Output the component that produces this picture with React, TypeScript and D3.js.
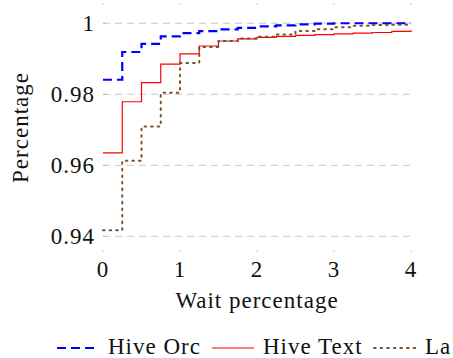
import React from "react";
import { scaleLinear, line, curveStepAfter } from "d3";

// wait percentage steps (x), one value per step for each series
const waits = [0, 0.25, 0.5, 0.75, 1, 1.25, 1.5, 1.75, 2, 2.25, 2.5, 2.75, 3, 3.25, 3.5, 3.75, 4];

const hiveOrc = [0.9841, 0.9919, 0.9942, 0.9963, 0.9972, 0.9978, 0.9983, 0.9987, 0.9991, 0.9994, 0.9997, 0.9999, 1, 1, 1, 1, 1];
const hiveText = [0.9635, 0.9779, 0.9833, 0.9885, 0.9914, 0.9936, 0.995, 0.9956, 0.996, 0.9963, 0.9966, 0.9968, 0.997, 0.9972, 0.9974, 0.9977, 0.998];
const laSeries = [0.9417, 0.9613, 0.9709, 0.9804, 0.9888, 0.9933, 0.995, 0.9957, 0.9962, 0.9968, 0.9978, 0.9983, 0.9989, 0.9993, 0.9995, 0.9996, 0.9998];

const xTicks = [0, 1, 2, 3, 4];
const yTicks = [0.94, 0.96, 0.98, 1];

const seriesNames = ["Hive Orc", "Hive Text", "La"];

const fs = 23;
const txt: React.CSSProperties = { fontFamily: "'Liberation Serif', 'Times New Roman', serif", fontSize: fs, letterSpacing: 1 };

const styles = [
  { stroke: "#0000ff", width: 2.2, dash: "9 5" },
  { stroke: "#ff0000", width: 1.2, dash: undefined },
  { stroke: "#7a5230", width: 2, dash: "1.6 5" },
];

export default function App() {
  const left = 103, right = 411, top = 3, bottom = 252;

  const x = scaleLinear().domain([0, 4]).range([left, right]);
  const y = scaleLinear().domain([0.9356, 1.0057]).range([bottom, top]);

  const all = [hiveOrc, hiveText, laSeries];
  const myLine = line<number>()
    .x((d, i) => x(waits[i]))
    .y(d => y(d))
    .curve(curveStepAfter);

  const legendX = [57, 212, 374];
  const legendY = 348;

  return (
    <svg width={453} height={358} style={{ position: "absolute", left: 0, top: 0 }}>
      <rect width={453} height={358} fill="white" />
      {/* grid */}
      {yTicks.map(t => (
        <line key={"g" + t} x1={left} x2={right + 2} y1={y(t)} y2={y(t)}
          stroke="#c8c8c8" strokeWidth={1} strokeDasharray="7 5" />
      ))}
      {/* tick marks */}
      {yTicks.map(t => (
        <g key={"yt" + t}>
          <line x1={left} x2={left + 3} y1={y(t)} y2={y(t)} stroke="#aaa" strokeWidth={0.6} />
          <text x={left - 8} y={y(t) + 7.5} style={txt} textAnchor="end" fill="#111">{t === 1 ? "1" : t.toFixed(2)}</text>
        </g>
      ))}
      {xTicks.map(t => (
        <g key={"xt" + t}>
          <line x1={x(t)} x2={x(t)} y1={bottom} y2={bottom - 2} stroke="#aaa" strokeWidth={0.6} />
          <line x1={x(t)} x2={x(t)} y1={top} y2={top + 2} stroke="#aaa" strokeWidth={0.6} />
          <text x={x(t)} y={277} style={txt} textAnchor="middle" fill="#111">{t}</text>
        </g>
      ))}
      {/* series */}
      {all.map((s, i) => (
        <path key={seriesNames[i]} d={myLine(s) || ""} fill="none"
          stroke={styles[i].stroke} strokeWidth={styles[i].width}
          strokeDasharray={styles[i].dash} strokeLinecap={i === 2 ? "round" : "butt"} />
      ))}
      {/* axis labels */}
      <text x={(left + right) / 2} y={308} style={txt} textAnchor="middle" fill="#111">Wait percentage</text>
      <text transform={`translate(28,${(top + bottom) / 2}) rotate(-90)`} style={txt} textAnchor="middle" fill="#111">Percentage</text>
      {/* legend */}
      {seriesNames.map((n, i) => (
        <g key={"l" + n}>
          <line x1={legendX[i]} x2={legendX[i] + 42} y1={legendY} y2={legendY}
            stroke={styles[i].stroke} strokeWidth={styles[i].width}
            strokeDasharray={styles[i].dash} strokeLinecap={i === 2 ? "round" : "butt"} />
          <text x={legendX[i] + 51} y={legendY + 6} style={txt} fill="#111">{n}</text>
        </g>
      ))}
    </svg>
  );
}
